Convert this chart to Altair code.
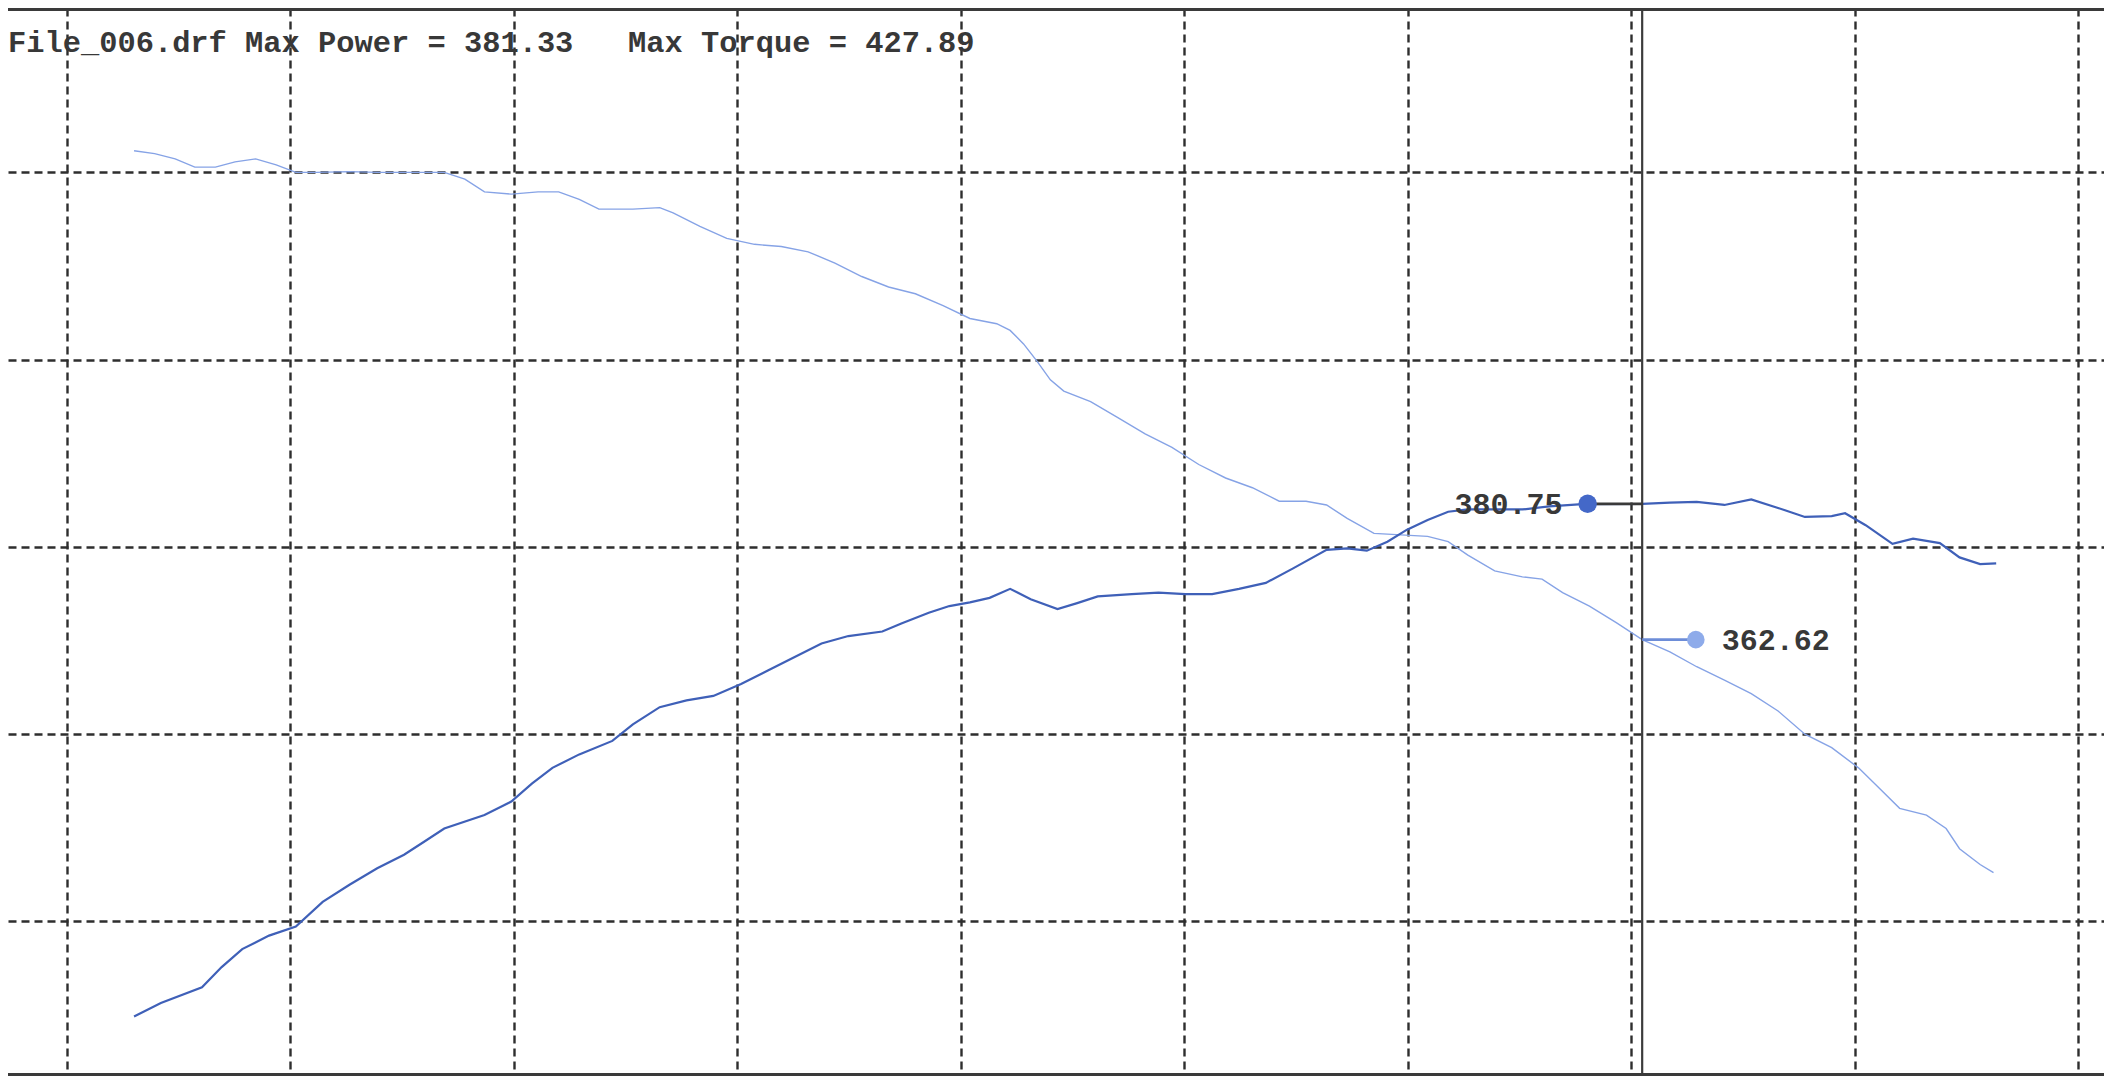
import altair as alt
import pandas as pd

# ---------------- data ----------------
FILE_NAME = "File_006.drf"
MAX_POWER = 381.33
MAX_TORQUE = 427.89

torque_rpm = [3825, 3848, 3871, 3893, 3916, 3938, 3961, 3984, 4006, 4029,
              4066, 4097, 4127, 4172, 4195, 4217, 4247, 4277, 4300, 4323,
              4345, 4383, 4413, 4428, 4458, 4488, 4519, 4549, 4579, 4609,
              4639, 4669, 4699, 4730, 4760, 4790, 4805, 4820, 4835, 4850,
              4865, 4895, 4925, 4956, 4986, 5016, 5046, 5076, 5106, 5136,
              5159, 5182, 5212, 5242, 5272, 5295, 5317, 5347, 5378, 5400,
              5423, 5453, 5483, 5512, 5543, 5573, 5604, 5634, 5664, 5694,
              5724, 5754, 5777, 5800, 5830, 5852, 5867, 5890, 5905]
torque_val = [427.9, 427.5, 426.8, 425.7, 425.7, 426.4, 426.8, 426.0, 425.0, 425.0,
              425.1, 425.0, 425.0, 425.0, 424.1, 422.4, 422.1, 422.4, 422.4, 421.4,
              420.1, 420.1, 420.3, 419.6, 417.8, 416.2, 415.4, 415.1, 414.4, 412.9,
              411.1, 409.7, 408.8, 407.2, 405.5, 404.8, 403.9, 402.1, 399.8, 397.3,
              395.8, 394.4, 392.3, 390.1, 388.3, 386.0, 384.2, 382.9, 381.1, 381.1,
              380.6, 378.8, 376.8, 376.6, 376.4, 375.7, 373.9, 371.8, 371.0, 370.7,
              368.9, 367.1, 364.9, 362.62, 361.0, 359.0, 357.2, 355.4, 353.1, 350.0,
              348.2, 345.5, 342.8, 340.1, 339.2, 337.4, 334.7, 332.6, 331.5]

power_rpm = [3825, 3855, 3901, 3923, 3946, 3976, 4006, 4036, 4066, 4097,
             4127, 4149, 4172, 4217, 4247, 4270, 4293, 4323, 4360, 4383,
             4413, 4443, 4473, 4504, 4534, 4564, 4594, 4624, 4662, 4684,
             4714, 4737, 4760, 4782, 4805, 4828, 4858, 4880, 4903, 4941,
             4971, 5001, 5031, 5061, 5091, 5121, 5159, 5182, 5204, 5227,
             5249, 5272, 5295, 5317, 5347, 5378, 5408, 5445, 5512, 5543,
             5573, 5604, 5634, 5664, 5694, 5724, 5739, 5762, 5792, 5815,
             5845, 5867, 5890, 5908]
power_val = [312.3, 314.1, 316.2, 318.9, 321.3, 323.1, 324.3, 327.6, 329.9, 332.1,
             333.9, 335.6, 337.4, 339.2, 341.0, 343.4, 345.5, 347.3, 349.1, 351.3,
             353.6, 354.5, 355.1, 356.7, 358.5, 360.3, 362.1, 363.1, 363.7, 364.8,
             366.2, 367.1, 367.6, 368.2, 369.4, 368.0, 366.7, 367.5, 368.4, 368.7,
             368.9, 368.7, 368.7, 369.4, 370.2, 372.1, 374.6, 374.8, 374.5, 375.7,
             377.3, 378.6, 379.7, 380.0, 380.0, 380.0, 380.4, 380.7, 380.75, 380.9,
             381.0, 380.6, 381.33, 380.2, 379.0, 379.1, 379.5, 377.9, 375.4, 376.1,
             375.5, 373.6, 372.7, 372.8]

# cursor readout
cursor_rpm = 5512
cursor_power = 380.75
cursor_torque = 362.62
power_marker_rpm = 5451
torque_marker_rpm = 5572
power_label_rpm = 5423
torque_label_rpm = 5601

# grid positions
grid_x = [3750, 4000, 4250, 4500, 4750, 5000, 5250, 5500, 5750, 6000]
grid_y = [325, 350, 375, 400, 425]
x_domain = [3684.0, 6028.6]
y_domain = [304.36, 446.95]

# ---------------- styling ----------------
POWER_COLOR = "#3f60b8"
TORQUE_COLOR = "#86a3e6"
POWER_MARK_COLOR = "#4468c8"
TORQUE_MARK_COLOR = "#8eabea"
TEXT_COLOR = "#383838"
GRID_COLOR = "#2e2e2e"
FONT = "Liberation Mono"

W, H = 2096, 1068

xs = alt.Scale(domain=x_domain, nice=False, zero=False)
ys = alt.Scale(domain=y_domain, nice=False, zero=False)
x_axis = alt.Axis(values=grid_x, grid=True, labels=False, ticks=False, domain=False, title=None)
y_axis = alt.Axis(values=grid_y, grid=True, labels=False, ticks=False, domain=False, title=None)

torque_df = pd.DataFrame({"rpm": torque_rpm, "val": torque_val})
power_df = pd.DataFrame({"rpm": power_rpm, "val": power_val})

torque_line = alt.Chart(torque_df).mark_line(color=TORQUE_COLOR, strokeWidth=1.4).encode(
    x=alt.X("rpm:Q", scale=xs, axis=x_axis),
    y=alt.Y("val:Q", scale=ys, axis=y_axis),
)
power_line = alt.Chart(power_df).mark_line(color=POWER_COLOR, strokeWidth=2.2).encode(
    x=alt.X("rpm:Q", scale=xs),
    y=alt.Y("val:Q", scale=ys),
)

cursor_df = pd.DataFrame({"rpm": [cursor_rpm]})
cursor = alt.Chart(cursor_df).mark_rule(color="#3c3c3c", strokeWidth=2.2).encode(
    x=alt.X("rpm:Q", scale=xs)
)

pconn_df = pd.DataFrame({"x1": [power_marker_rpm], "x2": [cursor_rpm], "y": [cursor_power]})
tconn_df = pd.DataFrame({"x1": [cursor_rpm], "x2": [torque_marker_rpm], "y": [cursor_torque]})
power_conn = alt.Chart(pconn_df).mark_rule(strokeWidth=2.6, color="#3a3a3a").encode(
    x=alt.X("x1:Q", scale=xs), x2="x2:Q", y=alt.Y("y:Q", scale=ys),
)
torque_conn = alt.Chart(tconn_df).mark_rule(strokeWidth=2.6, color="#6d8dd8").encode(
    x=alt.X("x1:Q", scale=xs), x2="x2:Q", y=alt.Y("y:Q", scale=ys),
)

pmark_df = pd.DataFrame({"rpm": [power_marker_rpm], "val": [cursor_power]})
tmark_df = pd.DataFrame({"rpm": [torque_marker_rpm], "val": [cursor_torque]})
power_marker = alt.Chart(pmark_df).mark_point(
    filled=True, shape="circle", size=340, opacity=1, color=POWER_MARK_COLOR
).encode(x=alt.X("rpm:Q", scale=xs), y=alt.Y("val:Q", scale=ys))
torque_marker = alt.Chart(tmark_df).mark_point(
    filled=True, shape="circle", size=310, opacity=1, color=TORQUE_MARK_COLOR
).encode(x=alt.X("rpm:Q", scale=xs), y=alt.Y("val:Q", scale=ys))

lab_df = pd.DataFrame({"rpm": [power_label_rpm], "val": [cursor_power], "t": [f"{cursor_power:.2f}"]})
lab_df2 = pd.DataFrame({"rpm": [torque_label_rpm], "val": [cursor_torque], "t": [f"{cursor_torque:.2f}"]})
power_label = alt.Chart(lab_df).mark_text(
    align="right", baseline="alphabetic", dy=10, font=FONT, fontSize=30,
    fontWeight="bold", color=TEXT_COLOR,
).encode(x=alt.X("rpm:Q", scale=xs), y=alt.Y("val:Q", scale=ys), text="t:N")
torque_label = alt.Chart(lab_df2).mark_text(
    align="left", baseline="alphabetic", dy=10, font=FONT, fontSize=30,
    fontWeight="bold", color=TEXT_COLOR,
).encode(x=alt.X("rpm:Q", scale=xs), y=alt.Y("val:Q", scale=ys), text="t:N")

title_text = (f"{FILE_NAME} Max Power = {MAX_POWER:.2f}" + "\u00a0\u00a0\u00a0"
              + f"Max Torque = {MAX_TORQUE:.2f}")
title_df = pd.DataFrame({"t": [title_text]})
title = alt.Chart(title_df).mark_text(
    align="left", baseline="alphabetic", font=FONT, fontSize=30.4,
    fontWeight="bold", color=TEXT_COLOR,
).encode(x=alt.value(0), y=alt.value(44), text="t:N")

border_df = pd.DataFrame({"b": ["edge"]})
top_border = alt.Chart(border_df).mark_rule(color="#3a3a3a", strokeWidth=3).encode(
    y=alt.value(1.5)
)
bottom_border = alt.Chart(border_df).mark_rule(color="#3a3a3a", strokeWidth=3).encode(
    y=alt.value(H - 1.5)
)

chart = alt.layer(
    torque_line, power_line, cursor, power_conn, torque_conn,
    power_marker, torque_marker, power_label, torque_label, title,
    top_border, bottom_border,
).properties(
    width=W, height=H, padding=0,
    autosize=alt.AutoSizeParams(type="none"),
    background="white",
).configure_view(stroke=None).configure_axis(
    gridColor=GRID_COLOR, gridDash=[8, 5], gridWidth=2.4, gridOpacity=1,
)

chart.save("out.html", embed_options={"renderer": "svg", "actions": False})
